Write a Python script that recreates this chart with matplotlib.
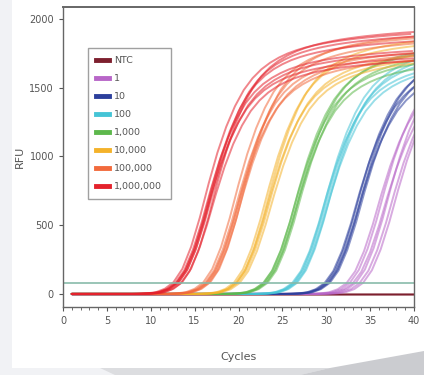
import numpy as np
import matplotlib
matplotlib.use('Agg')
import matplotlib.pyplot as plt
from matplotlib.patches import Rectangle, Polygon

# RFU readings of one 1,000,000-copy trace, cycles 1..40 (Cq about 13)
cycles = np.arange(1, 41)
profile_cq = 13.0
profile_rfu = [0, 0, 0, 0, 0, 0, 0, 0, 1, 4,
               12, 35, 80, 170, 320, 520, 750, 960, 1135, 1275,
               1385, 1465, 1525, 1570, 1605, 1633, 1655, 1673, 1688, 1700,
               1711, 1720, 1728, 1735, 1741, 1747, 1752, 1757, 1761, 1765]

labels = ['NTC', '1', '10', '100', '1,000', '10,000', '100,000', '1,000,000']
colors = ['#7d1f2e', '#b866c8', '#2c3f9c', '#45c4d6', '#5db84c', '#f4b22a', '#f26a3c', '#e4222c']

# replicate Cq values and plateau factors per standard (NTC has none)
rep_cq = {
    '1': [32.3, 32.7, 33.0, 33.4, 33.8, 34.2],
    '10': [29.8, 30.0, 30.1, 30.3, 30.4],
    '100': [26.1, 26.3, 26.4, 26.5, 26.7],
    '1,000': [22.8, 22.9, 23.0, 23.2, 23.3],
    '10,000': [19.5, 19.7, 19.8, 19.9, 20.1],
    '100,000': [16.0, 16.2, 16.3, 16.5, 16.6, 16.8],
    '1,000,000': [12.6, 12.8, 12.9, 13.0, 13.1, 13.2, 13.4, 13.6],
}
rep_scale = {
    '1': [0.97, 1.02, 0.95, 1.04, 0.99, 1.01],
    '10': [0.98, 1.02, 0.96, 1.03, 1.0],
    '100': [0.97, 1.03, 1.0, 0.96, 1.02],
    '1,000': [0.98, 1.02, 0.96, 1.03, 1.0],
    '10,000': [1.04, 0.98, 1.06, 1.0, 0.97],
    '100,000': [1.06, 1.0, 0.97, 1.04, 0.99, 1.07],
    '1,000,000': [1.07, 1.0, 0.97, 1.04, 0.99, 1.06, 0.96, 1.08],
}
ntc_rfu = [-4, -3, -4, -3, -4, -4, -3, -4]
threshold = 80


fig = plt.figure(figsize=(4.24, 3.75), dpi=100)
fig.patch.set_facecolor('#f1f2f5')
# white page with grey scan edges
fig.patches.append(Rectangle((12/424, 7/375), 1, 1, transform=fig.transFigure,
                             facecolor='white', edgecolor='none', zorder=-10))
fig.patches.append(Polygon([(100/424, 7/375), (330/424, 7/375), (300/424, 0), (115/424, 0)],
                           closed=True, transform=fig.transFigure,
                           facecolor='#dcdde0', edgecolor='none', zorder=-10))
fig.patches.append(Polygon([(330/424, 7/375), (424/424, 24/375), (1, 0), (300/424, 0)],
                           closed=True, transform=fig.transFigure,
                           facecolor='#cbccd0', edgecolor='none', zorder=-10))

ax = fig.add_axes([63/424, 68/375, 351/424, 300/375])
prof = np.array(profile_rfu, dtype=float)

for lab, col in zip(labels, colors):
    if lab == 'NTC':
        for v in ntc_rfu:
            ax.plot(cycles, np.full(len(cycles), v), color=col, lw=1.0, alpha=0.5)
        continue
    for cq, sc in zip(rep_cq[lab], rep_scale[lab]):
        x = cycles + (cq - profile_cq)
        y = prof * sc
        keep = x >= 1
        x = np.concatenate([[1], x[keep]])
        y = np.concatenate([[y[0]], y[keep]])
        ax.plot(x, y, color=col, lw=1.4, alpha=0.55, solid_capstyle='round')

ax.axhline(threshold, color='#86b9a8', lw=1.3, alpha=0.9)

ax.set_xlim(0, 40)
ax.set_ylim(-95, 2085)
ax.set_xticks(np.arange(0, 41, 5))
ax.set_xticks(np.arange(0, 41, 1), minor=True)
ax.set_yticks(np.arange(0, 2001, 500))
ax.tick_params(axis='both', which='major', labelsize=7, colors='#555555', length=3, width=0.8)
ax.tick_params(axis='x', which='minor', length=2, width=0.6, color='#555555')
for s in ax.spines.values():
    s.set_color('#666666')
    s.set_linewidth(1.0)
ax.spines['top'].set_linewidth(1.4)

ax.set_xlabel('Cycles', fontsize=8, color='#555555', labelpad=19)
ax.set_ylabel('RFU', fontsize=8, color='#555555', labelpad=3)

handles = [plt.Line2D([], [], color=c, lw=3.5) for c in colors]
leg = ax.legend(handles, labels, loc='upper left', bbox_to_anchor=(0.071, 0.865),
                borderaxespad=0, fontsize=6.8, frameon=True, fancybox=False,
                edgecolor='#888888', handlelength=1.3, labelspacing=0.95,
                borderpad=0.9, handletextpad=0.6)
for t in leg.get_texts():
    t.set_color('#555555')

fig.savefig('out.png', dpi=100, facecolor=fig.get_facecolor())
